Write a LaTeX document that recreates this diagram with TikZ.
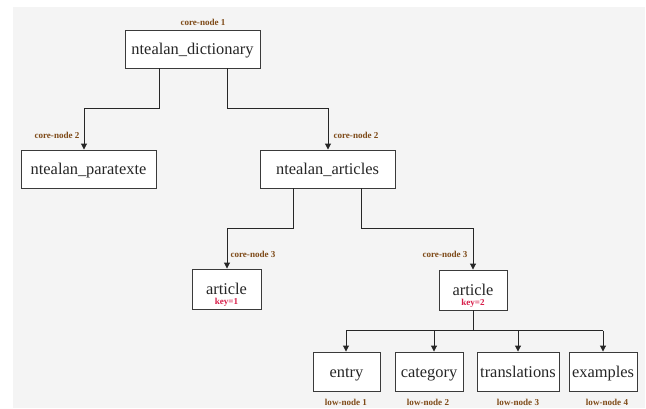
\documentclass[tikz,border=0pt]{standalone}
\usepackage{fontspec}
\setmainfont{Liberation Serif}
\usetikzlibrary{arrows.meta,calc}
\definecolor{bggray}{HTML}{F4F4F4}
\definecolor{lblbrown}{HTML}{7E4A18}
\definecolor{keyred}{HTML}{D81E4A}
\definecolor{linegray}{HTML}{3A3A3A}
\begin{document}
\begin{tikzpicture}[x=0.75pt,y=-0.75pt,
  box/.style={draw=linegray,line width=0.7pt,fill=white,inner sep=0pt,
    text height=10.5pt,text depth=2pt,
    font=\fontsize{12.3pt}{14pt}\selectfont,text=black!85},
  lbl/.style={font=\fontsize{6.8pt}{8pt}\selectfont\bfseries,text=lblbrown,inner sep=0pt},
  keylbl/.style={font=\fontsize{6.8pt}{8pt}\selectfont\bfseries,text=keyred,inner sep=0pt},
  conn/.style={draw=black!85,line width=0.7pt},
  arr/.style={conn,-{Triangle[length=4.5pt,width=4.5pt]}}]
\useasboundingbox (0,0) rectangle (646,408);
\fill[bggray] (13,7) rectangle (645,408);

\node[box,minimum width=135*0.75pt,minimum height=38*0.75pt] (dict) at (192.5,49) {ntealan\_dictionary};
\node[box,minimum width=135*0.75pt,minimum height=38*0.75pt] (para) at (88.5,169) {ntealan\_paratexte};
\node[box,minimum width=135*0.75pt,minimum height=38*0.75pt] (arts) at (327.5,169) {ntealan\_articles};
\node[box,minimum width=69*0.75pt,minimum height=40*0.75pt] (art1) at (226.5,289) {article};
\node[box,minimum width=68*0.75pt,minimum height=40*0.75pt] (art2) at (473,290) {article};
\node[keylbl] (k1) at (226.5,302.5) {key=1};
\node[keylbl] (k2) at (473,303.5) {key=2};

\node[box,minimum width=67*0.75pt,minimum height=39*0.75pt] (entry) at (346.5,371.5) {entry};
\node[box,minimum width=68*0.75pt,minimum height=39*0.75pt] (cat) at (429,371.5) {category};
\node[box,minimum width=82*0.75pt,minimum height=39*0.75pt] (trans) at (518,371.5) {translations};
\node[box,minimum width=68*0.75pt,minimum height=39*0.75pt] (ex) at (603,371.5) {examples};

\node[lbl] (l1) at (203,22) {core-node 1};
\node[lbl] (l2a) at (57,135) {core-node 2};
\node[lbl] (l2b) at (356,135) {core-node 2};
\node[lbl] (l3a) at (253,254) {core-node 3};
\node[lbl] (l3b) at (445,254) {core-node 3};
\node[lbl] (n1) at (346,402) {low-node 1};
\node[lbl] (n2) at (428,402) {low-node 2};
\node[lbl] (n3) at (518,402) {low-node 3};
\node[lbl] (n4) at (607,402) {low-node 4};

% connectors
\draw[arr] ($(dict.south)+(-33.5,0)$) |- ($(para.north)+(-4.5,-41)$) -- ($(para.north)+(-4.5,0)$);
\draw[arr] ($(dict.south)+(34.5,0)$) |- ($(arts.north)+(0.5,-41)$) -- ($(arts.north)+(0.5,0)$);
\draw[arr] ($(arts.south)+(-34.5,0)$) |- ($(art1.north)+(0.5,-40)$) -- ($(art1.north)+(0.5,0)$);
\draw[arr] ($(arts.south)+(33.5,0)$) |- ($(art2.north)+(0,-41)$) -- (art2.north);
\draw[conn] (art2.south) -- ++(0,21);
\draw[conn] ($(entry.north)+(-0.5,-21)$) -- ($(ex.north)+(0,-21)$);
\draw[arr] ($(entry.north)+(-0.5,-21)$) -- ($(entry.north)+(-0.5,0)$);
\draw[arr] ($(cat.north)+(5,-21)$) -- ($(cat.north)+(5,0)$);
\draw[arr] ($(trans.north)+(0,-21)$) -- (trans.north);
\draw[arr] ($(ex.north)+(0,-21)$) -- (ex.north);
\end{tikzpicture}
\end{document}
